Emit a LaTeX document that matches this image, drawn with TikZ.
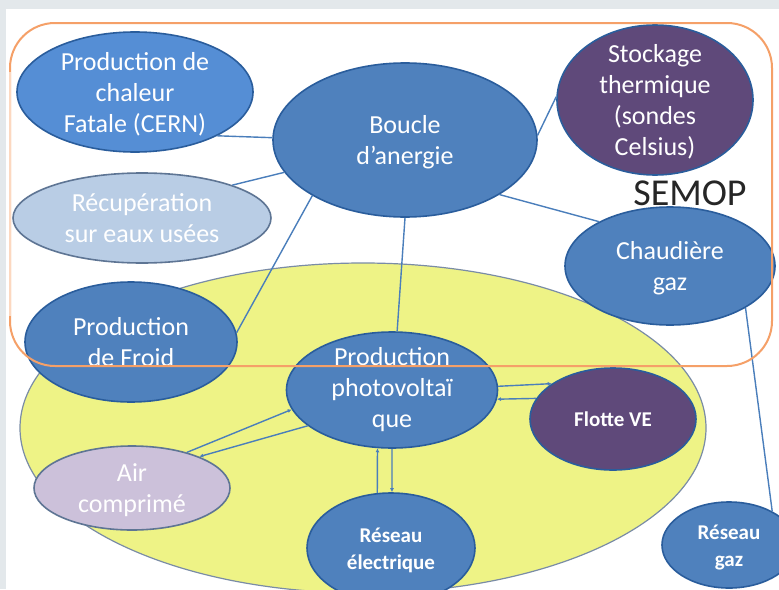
\documentclass[tikz,border=0pt]{standalone}
\usepackage{fontspec}
\setmainfont{Carlito}
\usetikzlibrary{shapes.geometric,arrows.meta}
\definecolor{BGGRAY}{HTML}{E3E8EB}
\definecolor{EDGEBLUE}{HTML}{2A5D9C}
\definecolor{NODEBLUE}{HTML}{4F81BD}
\definecolor{HEATBLUE}{HTML}{558ED5}
\definecolor{PALEBLUE}{HTML}{B9CDE5}
\definecolor{VIOLET}{HTML}{5F497A}
\definecolor{LILAC}{HTML}{CCC1DA}
\definecolor{SLATE}{HTML}{5E7594}
\definecolor{LINKBLUE}{HTML}{4A7EBB}
\definecolor{SITEYELLOW}{HTML}{EEF386}
\definecolor{SITEEDGE}{HTML}{7A8CA6}
\definecolor{SEMOPORANGE}{HTML}{F5A068}
\definecolor{SEMOPPALE}{HTML}{FCD8C0}
\definecolor{SEMOPTEXT}{HTML}{262626}
\tikzset{
BUBBLE/.style={ellipse, draw=EDGEBLUE, line width=1.6pt, fill=#1, inner sep=0pt, text=white, font=\fontsize{26}{31}\selectfont},
BUBBLE/.default=NODEBLUE,
SMALLBUBBLE/.style={BUBBLE=#1, font=\fontsize{21}{27}\selectfont\bfseries},
SMALLBUBBLE/.default=NODEBLUE,
LINK/.style={draw=LINKBLUE, line width=1.4pt},
FLOW/.style={LINK, -{Latex[length=4pt,width=4pt]}},
REGION/.style={draw=SITEEDGE, line width=1.2pt, fill=SITEYELLOW},
FRAME/.style={draw=#1, line width=2pt},
FRAME/.default=SEMOPORANGE,
}
% text centred in an ellipse without widening it
\newcommand\ELLTEXT[2][-.36em]{\smash{\makebox[0pt]{\raisebox{#1}{\begin{tabular}{@{}c@{}}#2\end{tabular}}}}}

\begin{document}
\begin{tikzpicture}[x=1pt, y=-1pt] %reseau d'energie du site
	\clip (0,0) rectangle (779,589);
	\fill[BGGRAY] (0,0) rectangle (779,589);
	\fill[white] (6,9) rectangle (779,589);
	\path[REGION] (363,428) ellipse [x radius=343pt, y radius=165pt];

	\node[BUBBLE=HEATBLUE, minimum width=236pt, minimum height=120pt] (chaleur) at (135,92) {\ELLTEXT{Production de\\chaleur\\Fatale (CERN)}};
	\node[BUBBLE, minimum width=264pt, minimum height=154pt] (boucle) at (405,140) {\ELLTEXT{Boucle\\d'anergie}};
	\node[BUBBLE=VIOLET, minimum width=196pt, minimum height=150pt] (stockage) at (655,100) {\ELLTEXT{Stockage\\thermique\\(sondes\\Celsius)}};
	\node[BUBBLE=PALEBLUE, draw=SLATE, minimum width=258pt, minimum height=90pt] (recup) at (142,218) {\ELLTEXT{Récupération\\sur eaux usées}};
	\node[BUBBLE, minimum width=212pt, minimum height=120pt] (froid) at (131,342) {};
	\node[BUBBLE, minimum width=210pt, minimum height=118pt] (chaudiere) at (670,266) {\ELLTEXT{Chaudière\\gaz}};
	\node[BUBBLE, minimum width=211pt, minimum height=116pt] (pv) at (392,390) {\ELLTEXT[-.24em]{Production\\photovoltaï\\que}};
	\node[SMALLBUBBLE=VIOLET, minimum width=166pt, minimum height=102pt] (flotte) at (613,419) {\ELLTEXT{Flotte VE}};
	\node[BUBBLE=LILAC, draw=SLATE, minimum width=196pt, minimum height=84pt] (air) at (132,488) {\ELLTEXT{Air\\comprimé}};
	\node[SMALLBUBBLE, minimum width=168pt, minimum height=110pt] (elec) at (391,548) {\ELLTEXT{Réseau\\électrique}};
	\node[SMALLBUBBLE, minimum width=134pt, minimum height=86pt] (gaz) at (729,545) {\ELLTEXT{Réseau\\gaz}};
	\node[font=\fontsize{38}{40}\selectfont, text=SEMOPTEXT, anchor=base] (semop) at (690,205) {SEMOP};
	\begin{scope}
		\clip (0,0) rectangle (779,366);
		\node[text=white, font=\fontsize{26}{31}\selectfont] (froidtext) at (froid.center) {\ELLTEXT{Production\\de Froid}};
	\end{scope}

	\draw[LINK] (chaleur.-28) -- (boucle.179);
	\draw[LINK] (recup.20) -- (boucle.195);
	\draw[LINK] (froid.5) -- (boucle.211);
	\draw[LINK] (boucle.2) -- (stockage.178);
	\draw[LINK] (boucle.-30) -- (chaudiere.148);
	\draw[LINK] (boucle.-90) -- (pv.85);
	\draw[LINK] (chaudiere.-29) -- (gaz.38);
	\draw[FLOW] (air.33) -- (pv.191);
	\draw[FLOW] (pv.203) -- (air.25);
	\draw[FLOW] (pv.2) -- (flotte.150);
	\draw[FLOW] (flotte.165) -- (pv.-5);
	\draw[FLOW] (elec.104) -- (pv.-104);
	\draw[FLOW] (pv.-90) -- (elec.89);

	\path[FRAME, rounded corners=45pt] (10,23) rectangle (772,366);
	\path[FRAME=SEMOPPALE] (10,72) -- (10,316);
\end{tikzpicture}
\end{document}
